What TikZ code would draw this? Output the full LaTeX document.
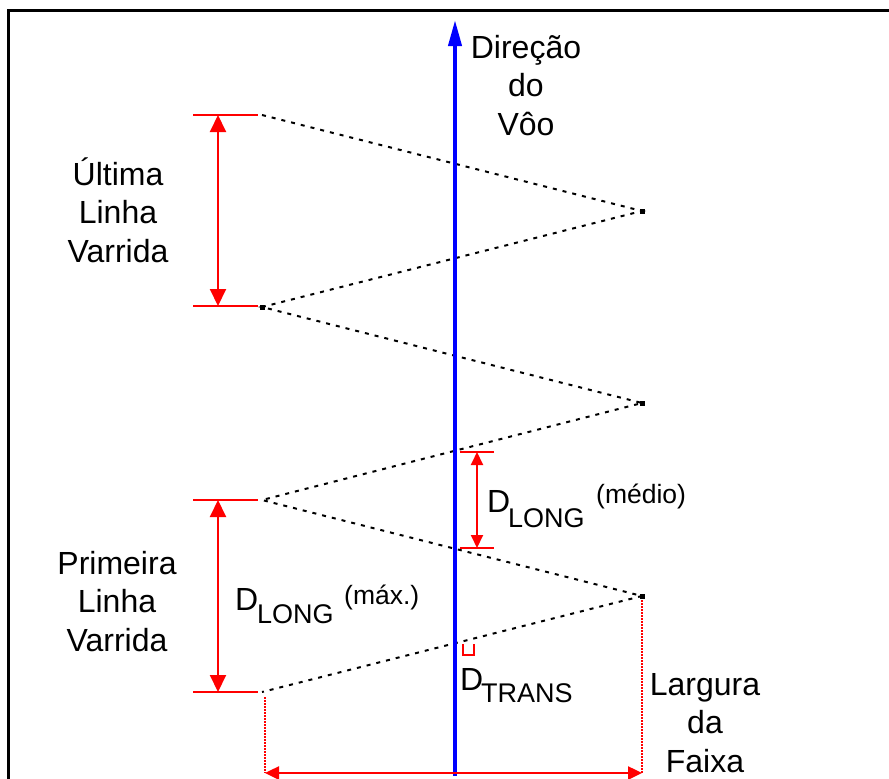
\documentclass[tikz,border=0pt]{standalone}
\usepackage{fontspec}
\setmainfont{Liberation Sans}
\usetikzlibrary{arrows.meta}
\begin{document}
\begin{tikzpicture}[x=1pt,y=-1pt,
  lbl/.style={align=center, anchor=base, inner sep=0pt, font=\fontsize{32}{38.5}\selectfont},
  bigtxt/.style={anchor=base west, inner sep=0pt, font=\fontsize{32}{38}\selectfont},
  subtxt/.style={anchor=base west, inner sep=0pt, font=\fontsize{27}{30}\selectfont},
  notetxt/.style={anchor=base west, inner sep=0pt, font=\fontsize{26.5}{30}\selectfont},
  zig/.style={black, line width=2pt, dash pattern=on 4pt off 6pt},
  dim/.style={red, line width=2pt},
  bigarr/.style={dim, {Triangle[width=16pt,length=17pt]}-{Triangle[width=16pt,length=17pt]}},
  smallarr/.style={dim, {Triangle[width=12pt,length=13pt]}-{Triangle[width=12pt,length=13pt]}},
  widearr/.style={red, line width=2.5pt, {Triangle[width=13pt,length=14pt]}-{Triangle[width=13pt,length=14pt]}},
  reddot/.style={red, line width=1.5pt, dash pattern=on 1.5pt off 1.5pt},
  vtx/.style={fill=black, minimum size=5pt, inner sep=0pt}
]
\useasboundingbox (0,0) rectangle (889,779);
\fill[white] (0,0) rectangle (889,779);

% frame
\coordinate (fr1) at (889,10);
\coordinate (fr2) at (8,10);
\coordinate (fr3) at (8,779);
\draw[line width=3pt] (fr1) -- (fr2) -- (fr3);

% zigzag scan line
\coordinate (L1) at (262,115);
\coordinate (R1) at (642,211);
\coordinate (L2) at (262,307);
\coordinate (R2) at (642,403);
\coordinate (L3) at (262,500);
\coordinate (R3) at (642,596);
\coordinate (L4) at (262,692);
\draw[zig] (L1) -- (R1) -- (L2) -- (R2) -- (L3) -- (R3) -- (L4);
\node[vtx] (dR1) at (R1) {};
\node[vtx] (dR2) at (R2) {};
\node[vtx] (dR3) at (R3) {};
\node[vtx] (dL2) at (L2) {};

% flight direction axis
\coordinate (ax0) at (455,776);
\coordinate (ax1) at (455,20);
\draw[blue, line width=4pt, -{Triangle[width=13pt,length=26pt]}] (ax0) -- (ax1);

% top-left dimension (Ultima Linha Varrida)
\coordinate (a1) at (193,115); \coordinate (a2) at (258,115);
\coordinate (a3) at (193,306); \coordinate (a4) at (258,306);
\draw[dim] (a1) -- (a2);
\draw[dim] (a3) -- (a4);
\coordinate (av1) at (218,115); \coordinate (av2) at (218,306);
\draw[bigarr] (av1) -- (av2);

% bottom-left dimension (Primeira Linha Varrida)
\coordinate (b1) at (193,500); \coordinate (b2) at (258,500);
\coordinate (b3) at (193,692); \coordinate (b4) at (258,692);
\draw[dim] (b1) -- (b2);
\draw[dim] (b3) -- (b4);
\coordinate (bv1) at (218,500); \coordinate (bv2) at (218,692);
\draw[bigarr] (bv1) -- (bv2);

% middle dimension (medio)
\coordinate (m1) at (460,452); \coordinate (m2) at (494,452);
\coordinate (m3) at (460,548); \coordinate (m4) at (494,548);
\draw[dim] (m1) -- (m2);
\draw[dim] (m3) -- (m4);
\coordinate (mv1) at (477,452); \coordinate (mv2) at (477,548);
\draw[smallarr] (mv1) -- (mv2);

% D_TRANS mark
\coordinate (u1) at (463,644); \coordinate (u2) at (463,655);
\coordinate (u3) at (474,655); \coordinate (u4) at (474,644);
\draw[red, line width=1.5pt] (u1) -- (u2) -- (u3) -- (u4);

% swath width
\coordinate (w1) at (265,697); \coordinate (w2) at (265,773);
\coordinate (w3) at (642,600); \coordinate (w4) at (642,773);
\draw[reddot] (w1) -- (w2);
\draw[reddot] (w3) -- (w4);
\draw[widearr] (w2) -- (w4);

% texts (anchor base = baseline of the last line)
\node[lbl] (dir) at (526,135) {Direção\\do\\Vôo};
\node[lbl] (ult) at (118,262) {Última\\Linha\\Varrida};
\node[lbl] (pri) at (117,651) {Primeira\\Linha\\Varrida};
\node[lbl] (larg) at (705,772) {Largura\\da\\Faixa};

\node[bigtxt] (dl1) at (235,610) {D};
\node[subtxt] (dl1s) at (257,623) {LONG};
\node[notetxt] (dl1n) at (344,604) {(máx.)};

\node[bigtxt] (dl2) at (487,512) {D};
\node[subtxt] (dl2s) at (508,527) {LONG};
\node[notetxt] (dl2n) at (596,503) {(médio)};

\node[bigtxt] (dt) at (460,690) {D};
\node[subtxt] (dts) at (481,702) {TRANS};
\end{tikzpicture}
\end{document}
